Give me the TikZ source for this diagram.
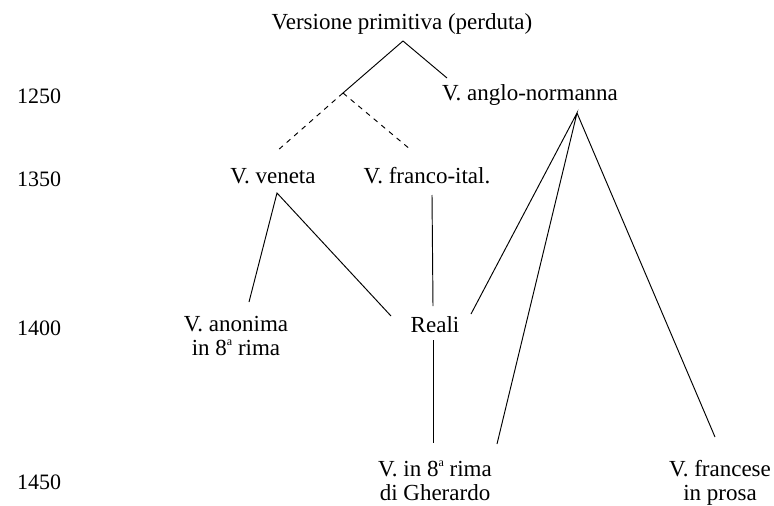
\documentclass[tikz,border=0pt]{standalone}
\usepackage{fontspec}
\setmainfont{Liberation Serif}
\newcommand{\supa}{\raisebox{0.42em}{\fontsize{12}{12}\selectfont a}}
\begin{document}
\begin{tikzpicture}[x=1pt,y=-1pt,
  lbl/.style={inner sep=0pt,anchor=base,align=center,font=\fontsize{23}{24}\selectfont},
  yr/.style={inner sep=0pt,anchor=base,font=\fontsize{22}{24}\selectfont},
  edge/.style={line width=0.95pt},
  dashedge/.style={line width=0.95pt,dash pattern=on 5pt off 5pt}]
\useasboundingbox (0,0) rectangle (774,506);
% years
\node[yr] (y1) at (39,103) {1250};
\node[yr] (y2) at (39,186) {1350};
\node[yr] (y3) at (39,335) {1400};
\node[yr] (y4) at (39,489) {1450};
% texts
\node[lbl] (vp) at (402,29) {Versione primitiva (perduta)};
\node[lbl] (an) at (530,100) {V. anglo-normanna};
\node[lbl] (vv) at (273,183) {V. veneta};
\node[lbl] (vf) at (427,183) {V. franco-ital.};
\node[lbl] (re) at (435,332) {Reali};
\node[lbl] (ao) at (236,355) {V. anonima\\in 8\supa{} rima};
\node[lbl] (gh) at (435,500) {V. in 8\supa{} rima\\di Gherardo};
\node[lbl] (fr) at (720,500) {V. francese\\in prosa};
% junction points
\coordinate (apex) at (403,41);
\coordinate (split) at (343,93);
\coordinate (anE) at (447,78);
\coordinate (dL) at (277,151);
\coordinate (dR) at (411,150);
\coordinate (vvA) at (277,193);
\coordinate (vvL) at (249,302);
\coordinate (vvR) at (391,316);
\coordinate (vfT) at (432,195);
\coordinate (vfB) at (433,306);
\coordinate (reT) at (433,340);
\coordinate (reB) at (433,443);
\coordinate (anA) at (577,113);
\coordinate (anR) at (471,314);
\coordinate (anG) at (497,444);
\coordinate (anF) at (715,437);
% connectors
\draw[edge] (split) -- (apex) -- (anE);
\draw[dashedge] (split) -- (dL);
\draw[dashedge] (split) -- (dR);
\draw[edge] (vvL) -- (vvA) -- (vvR);
\draw[edge] (vfT) -- (vfB);
\draw[edge] (reT) -- (reB);
\draw[edge] (anR) -- (anA) -- (anG);
\draw[edge] (anA) -- (anF);
\end{tikzpicture}
\end{document}
